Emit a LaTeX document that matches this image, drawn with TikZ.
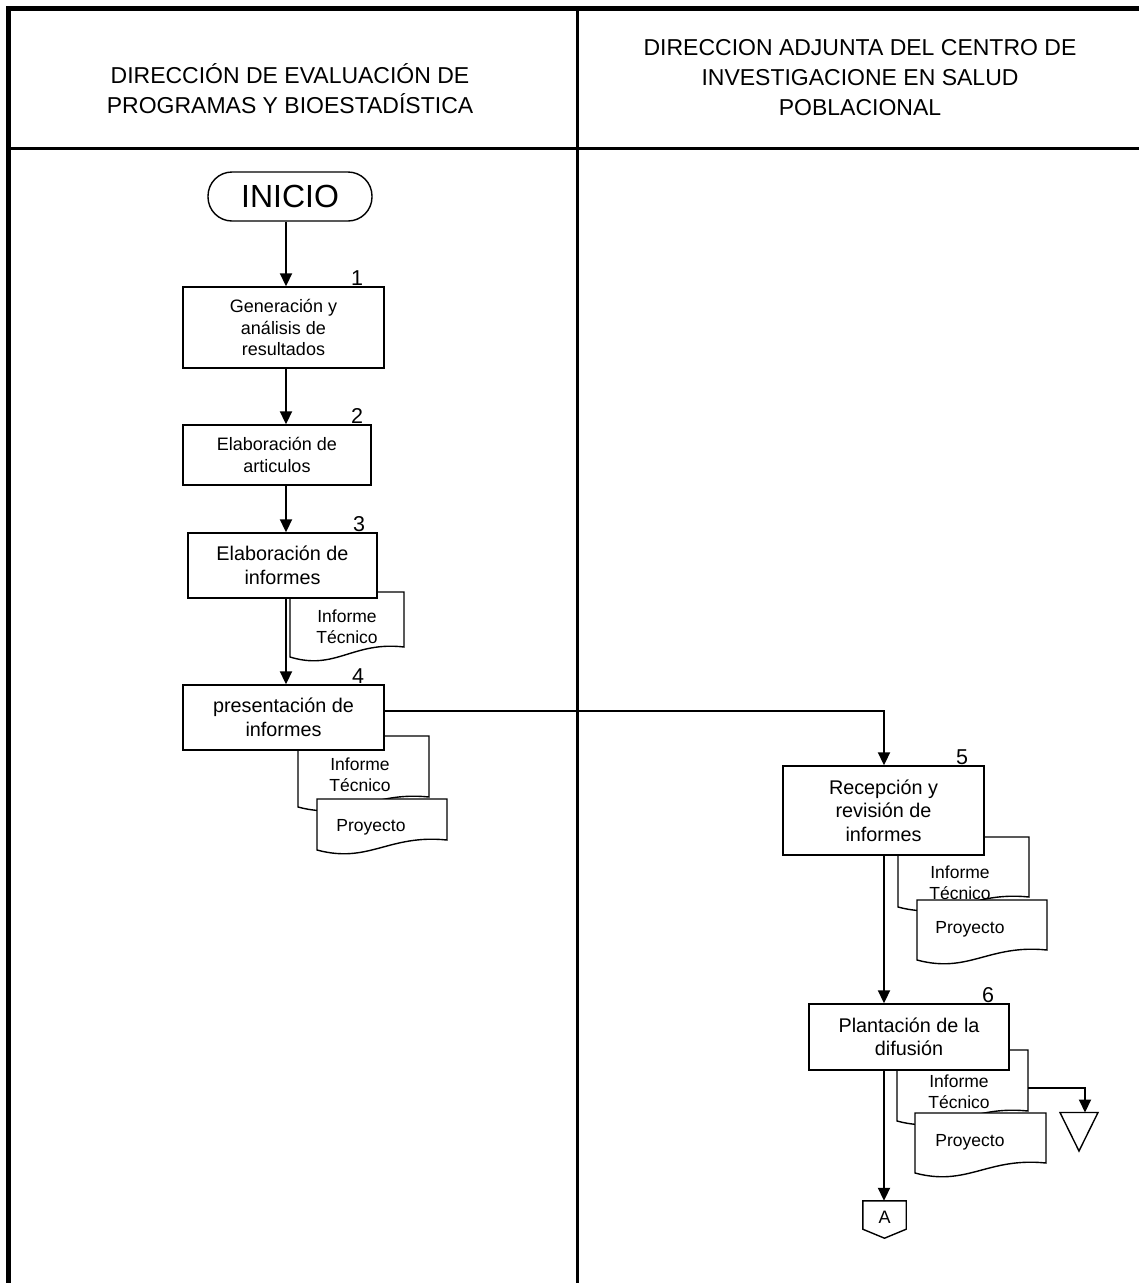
\documentclass[tikz,border=0pt]{standalone}
\usepackage{fontspec}
\setmainfont{Liberation Sans}
\usetikzlibrary{arrows.meta}
\tikzset{
  x=1pt, y=-1pt,
  frame/.style={line width=5pt},
  sep/.style={line width=3pt},
  box/.style={draw, fill=white, line width=1.4pt, inner sep=2pt, align=center, font=\fontsize{19.8}{23.5}\selectfont},
  smallbox/.style={box, font=\fontsize{18}{21.5}\selectfont},
  term/.style={draw, fill=white, line width=1.4pt, rounded corners=24pt, font=\fontsize{32}{34}\selectfont, minimum width=164pt, minimum height=49pt},
  num/.style={font=\fontsize{21.5}{22}\selectfont, anchor=base, inner sep=0pt},
  head/.style={align=center, font=\fontsize{23}{30}\selectfont},
  arr/.style={line width=1.9pt, -{Triangle[width=12pt,length=13pt]}},
  docline/.style={draw, fill=white, line width=1.4pt},
  doctext/.style={align=center, font=\fontsize{17.5}{21}\selectfont, inner sep=0pt},
  docbody/.style={draw=none, inner sep=0pt, outer sep=0pt},
}
% #1 name, #2 left, #3 top, #4 right, #5 bottom (right side), #6 text x, #7 text y, #8 text
\newcommand\docnode[8]{%
  \node[docbody, minimum width={#4-#2}, minimum height={#5-#3}] (#1) at ({(#2+#4)/2},{(#3+#5)/2}) {};
  \path[docline] (#1.north west) -- (#1.north east) -- (#1.south east)
     .. controls ({#2+0.55*(#4-#2)},{#5-6}) and ({#2+0.40*(#4-#2)},{#5+24}) .. ({#2},{#5+10}) -- cycle;
  \node[doctext] (#1-t) at (#6,#7) {#8};
}
\begin{document}
\begin{tikzpicture}
\useasboundingbox (0,0) rectangle (1139,1283);
\fill[white] (0,0) rectangle (1139,1283);

% frame and lanes
\coordinate (tl) at (8.5,8);
\coordinate (tr) at (1139,8);
\coordinate (bl) at (8.5,1283);
\draw[frame] (bl) -- (tl) -- (tr);
\coordinate (dtop) at (577.5,8);
\coordinate (dbot) at (577.5,1283);
\draw[sep] (dtop) -- (dbot);
\coordinate (hl) at (8.5,148.5);
\coordinate (hr) at (1139,148.5);
\draw[sep] (hl) -- (hr);

\node[head] (h1) at (290,89) {DIRECCIÓN DE EVALUACIÓN DE\\PROGRAMAS Y BIOESTADÍSTICA};
\node[head] (h2) at (860,78) {DIRECCION ADJUNTA DEL CENTRO DE\\INVESTIGACIONE EN SALUD\\POBLACIONAL};

% arrow x positions
\coordinate (ax) at (286,0);
\coordinate (bx) at (884,0);

% documents (drawn below the boxes)
\docnode{d3}{290}{592}{404}{647}{347}{627}{Informe\\Técnico}
\docnode{d4a}{298}{736}{429}{797}{360}{775}{Informe\\Técnico}
\docnode{d4b}{317}{799}{447}{840}{371}{827}{Proyecto}
\docnode{d5a}{898}{837}{1029}{897}{960}{883}{Informe\\Técnico}
\docnode{d5b}{917}{900}{1047}{950}{970}{929}{Proyecto}
\docnode{d6a}{897}{1050}{1028}{1111}{959}{1092}{Informe\\Técnico}
\docnode{d6b}{915}{1113}{1046}{1163}{970}{1142}{Proyecto}

% process boxes
\node[term] (inicio) at (290,196.5) {INICIO};
\node[smallbox, minimum width=201pt, minimum height=81pt] (b1) at (283.5,327.5) {Generación y\\análisis de\\resultados};
\node[smallbox, minimum width=188pt, minimum height=60pt] (b2) at (277,455) {Elaboración de\\articulos};
\node[box, minimum width=189pt, minimum height=65pt] (b3) at (282.5,565.5) {Elaboración de\\informes};
\node[box, minimum width=201pt, minimum height=65pt] (b4) at (283.5,717.5) {presentación de\\informes};
\node[box, minimum width=201pt, minimum height=89pt] (b5) at (883.5,810.5) {Recepción y\\revisión de\\informes};
\node[box, minimum width=200pt, minimum height=66pt] (b6) at (909,1037) {Plantación de la\\difusión};

% step numbers
\node[num] (n1) at (357,285) {1};
\node[num] (n2) at (357,423) {2};
\node[num] (n3) at (359,531) {3};
\node[num] (n4) at (358,683) {4};
\node[num] (n5) at (962,764) {5};
\node[num] (n6) at (988,1002) {6};

% off-page connector
\node[inner sep=0pt, minimum width=43pt, minimum height=28pt] (offA) at (884.5,1215) {};
\path[docline] (offA.north west) -- (offA.north east) -- (offA.south east) -- ([yshift=-9pt]offA.south) -- (offA.south west) -- cycle;
\node[inner sep=0pt, font=\fontsize{18}{20}\selectfont] (offAt) at (884.5,1217) {A};

% archive triangle
\coordinate (ta) at (1060,1112.5);
\coordinate (tb) at (1098,1112.5);
\coordinate (tc) at (1079,1151);
\path[docline] (ta) -- (tb) -- (tc) -- cycle;
\coordinate (t6) at (1085,1088);
\coordinate (t6b) at (1085,1112.5);

% connectors
\draw[arr] (inicio.south -| ax) -- (b1.north -| ax);
\draw[arr] (b1.south -| ax) -- (b2.north -| ax);
\draw[arr] (b2.south -| ax) -- (b3.north -| ax);
\draw[arr] (b3.south -| ax) -- (b4.north -| ax);
\coordinate (c45) at (884,711);
\draw[arr] (b4.east |- c45) -- (c45) -- (b5.north -| c45);
\draw[arr] (b5.south -| bx) -- (b6.north -| bx);
\draw[arr] (b6.south -| bx) -- (offA.north -| bx);
\draw[arr] (d6a.east |- t6) -- (t6) -- (t6b);
\end{tikzpicture}
\end{document}
